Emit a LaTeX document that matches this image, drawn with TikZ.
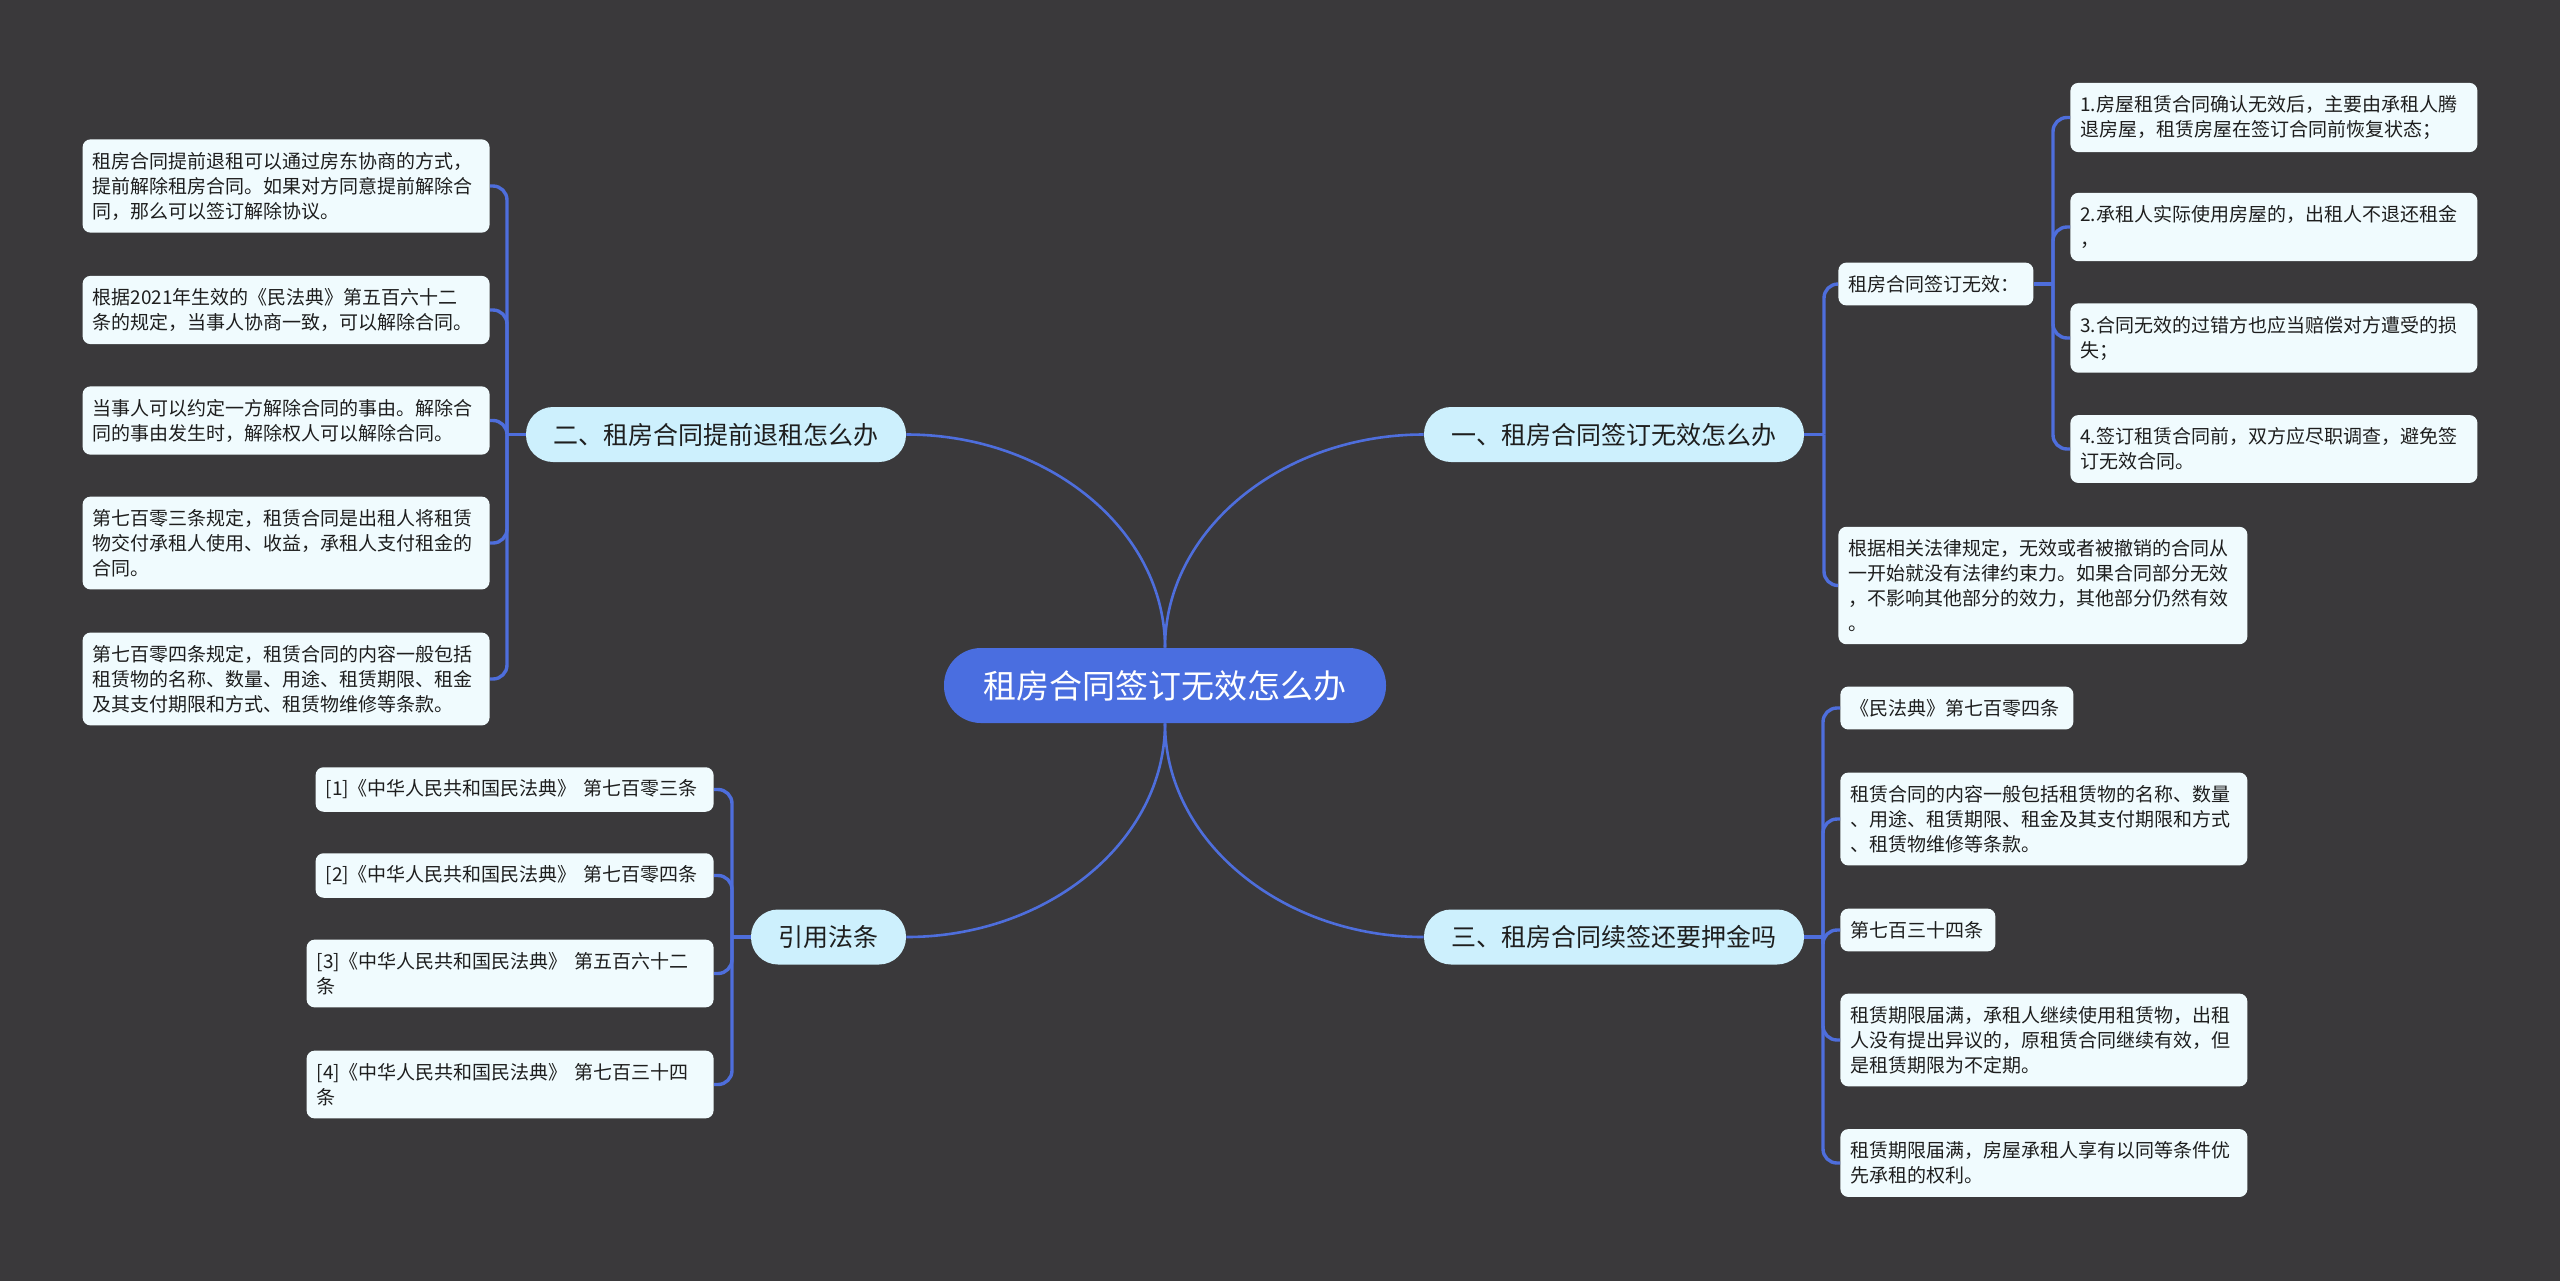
\documentclass[tikz,border=0pt]{standalone}
\usepackage{fontspec}
\setmainfont{Noto Sans CJK SC}
\definecolor{bgc}{RGB}{58,57,59}
\definecolor{linec}{RGB}{78,110,220}
\definecolor{rootc}{RGB}{74,110,224}
\definecolor{branchc}{RGB}{205,240,253}
\definecolor{leafc}{RGB}{240,251,254}
\definecolor{txtc}{RGB}{30,30,30}
\tikzset{
  leaf/.style={fill=leafc,rounded corners=4pt,align=left,text width=#1,inner xsep=5pt,inner ysep=6.3pt,
    font=\fontsize{9.5}{12.5}\selectfont,text=txtc},
  leaf/.default=193.5pt,
  branch/.style={fill=branchc,rounded corners=13.5pt,minimum width=190pt,minimum height=27.5pt,inner sep=0pt,
    font=\fontsize{12.5}{15}\selectfont,text=txtc},
  root/.style={fill=rootc,rounded corners=18.5pt,minimum width=221pt,minimum height=37.5pt,inner sep=0pt,
    font=\fontsize{16.5}{20}\selectfont,text=white},
  link/.style={draw=linec,line width=1.7pt,rounded corners=7pt},
  curve/.style={draw=linec,line width=1.3pt},
}
\begin{document}
\begin{tikzpicture}[x=.5pt,y=-.5pt]
\fill[bgc](0,0)rectangle(2560,1281);
% root and main branches
\node[root](root)at(1165,685.5){租房合同签订无效怎么办};
\node[branch](b1)at(1614,434.5){一、租房合同签订无效怎么办};
\node[branch](b2)at(716,434.5){二、租房合同提前退租怎么办};
\node[branch](b3)at(1614,937){三、租房合同续签还要押金吗};
\node[branch,minimum width=77.5pt](b4)at(828.5,937){引用法条};
\draw[curve](root.north)..controls(1165,530)and(1282,434.5)..(b1.west);
\draw[curve](root.north)..controls(1165,530)and(1048,434.5)..(b2.east);
\draw[curve](root.south)..controls(1165,841)and(1282,937)..(b3.west);
\draw[curve](root.south)..controls(1165,841)and(1048,937)..(b4.east);
% branch one
\node[leaf=87.5pt,anchor=west](a)at(1838,284){租房合同签订无效：};
\node[leaf,anchor=west](a1)at(2070,117.5){1.房屋租赁合同确认无效后，主要由承租人腾\\退房屋，租赁房屋在签订合同前恢复状态；};
\node[leaf,anchor=west](a2)at(2070,227){2.承租人实际使用房屋的，出租人不退还租金\\，};
\node[leaf,anchor=west](a3)at(2070,338){3.合同无效的过错方也应当赔偿对方遭受的损\\失；};
\node[leaf,anchor=west](a4)at(2070,449){4.签订租赁合同前，双方应尽职调查，避免签\\订无效合同。};
\node[leaf=194.5pt,anchor=west](b)at(1838,585.5){根据相关法律规定，无效或者被撤销的合同从\\一开始就没有法律约束力。如果合同部分无效\\，不影响其他部分的效力，其他部分仍然有效\\。};
\coordinate(t1)at(1824,434.5);
\coordinate(t11)at(2053,284);
\draw[link](b1.east)--(t1);
\foreach\n in{a,b}{\draw[link](t1)|-(\n.west);}
\draw[link](a.east)--(t11);
\foreach\n in{a1,a2,a3,a4}{\draw[link](t11)|-(\n.west);}
% branch two
\node[leaf,anchor=east](l1)at(490,186){租房合同提前退租可以通过房东协商的方式，\\提前解除租房合同。如果对方同意提前解除合\\同，那么可以签订解除协议。};
\node[leaf,anchor=east](l2)at(490,310){根据2021年生效的《民法典》第五百六十二\\条的规定，当事人协商一致，可以解除合同。};
\node[leaf,anchor=east](l3)at(490,420.5){当事人可以约定一方解除合同的事由。解除合\\同的事由发生时，解除权人可以解除合同。};
\node[leaf,anchor=east](l4)at(490,543){第七百零三条规定，租赁合同是出租人将租赁\\物交付承租人使用、收益，承租人支付租金的\\合同。};
\node[leaf,anchor=east](l5)at(490,679){第七百零四条规定，租赁合同的内容一般包括\\租赁物的名称、数量、用途、租赁期限、租金\\及其支付期限和方式、租赁物维修等条款。};
\coordinate(t2)at(507,434.5);
\draw[link](b2.west)--(t2);
\foreach\n in{l1,l2,l3,l4,l5}{\draw[link](t2)|-(\n.east);}
% branch three
\node[leaf=106.5pt,anchor=west](c1)at(1840,708){《民法典》第七百零四条};
\node[leaf,anchor=west](c2)at(1840,819){租赁合同的内容一般包括租赁物的名称、数量\\、用途、租赁期限、租金及其支付期限和方式\\、租赁物维修等条款。};
\node[leaf=67.5pt,anchor=west](c3)at(1840,930){第七百三十四条};
\node[leaf,anchor=west](c4)at(1840,1040){租赁期限届满，承租人继续使用租赁物，出租\\人没有提出异议的，原租赁合同继续有效，但\\是租赁期限为不定期。};
\node[leaf,anchor=west](c5)at(1840,1163){租赁期限届满，房屋承租人享有以同等条件优\\先承租的权利。};
\coordinate(t3)at(1823,937);
\draw[link](b3.east)--(t3);
\foreach\n in{c1,c2,c3,c4,c5}{\draw[link](t3)|-(\n.west);}
% references
\node[leaf=189pt,anchor=east](q1)at(714,789.5){[1]《中华人民共和国民法典》 第七百零三条};
\node[leaf=189pt,anchor=east](q2)at(714,875.5){[2]《中华人民共和国民法典》 第七百零四条};
\node[leaf,anchor=east](q3)at(714,973.5){[3]《中华人民共和国民法典》 第五百六十二\\条};
\node[leaf,anchor=east](q4)at(714,1084.5){[4]《中华人民共和国民法典》 第七百三十四\\条};
\coordinate(t4)at(732,937);
\draw[link](b4.west)--(t4);
\foreach\n in{q1,q2,q3,q4}{\draw[link](t4)|-(\n.east);}
\end{tikzpicture}
\end{document}
